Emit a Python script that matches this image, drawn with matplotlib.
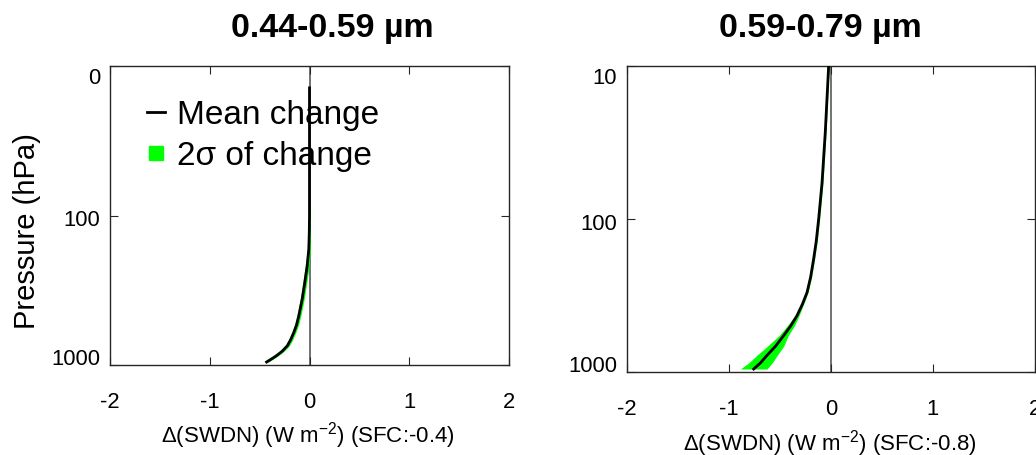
import numpy as np
import matplotlib
matplotlib.use("Agg")
import matplotlib.pyplot as plt
from matplotlib.lines import Line2D

plt.rcParams['font.family'] = ['Liberation Sans', 'DejaVu Sans']
plt.rcParams['mathtext.fontset'] = 'custom'
plt.rcParams['mathtext.rm'] = 'Liberation Sans'
plt.rcParams['mathtext.it'] = 'Liberation Sans'
plt.rcParams['axes.unicode_minus'] = False

# ---- data ----
# left panel: 0.44-0.59 um
p_left = [14, 50, 100, 129, 168, 217, 280, 362, 468, 540, 605, 680, 745, 810, 870, 910, 955]
mean_left = [0.0, 0.0, 0.0, -0.002, -0.007, -0.023, -0.047, -0.073, -0.107, -0.13,
             -0.157, -0.19, -0.223, -0.275, -0.335, -0.38, -0.43]
sig_left = [0.0, 0.0, 0.008, 0.012, 0.016, 0.02, 0.02, 0.02, 0.02, 0.02,
            0.02, 0.02, 0.02, 0.02, 0.02, 0.02, 0.02]

# right panel: 0.59-0.79 um
p_right = [10, 27, 58, 100, 140, 182, 240, 302, 360, 428, 500, 578, 680, 778, 870, 956]
mean_right = [-0.023, -0.056, -0.088, -0.121, -0.145, -0.17, -0.20, -0.235, -0.28,
              -0.333, -0.395, -0.464, -0.545, -0.627, -0.69, -0.758]
sig_right = [0.006, 0.008, 0.01, 0.01, 0.01, 0.01, 0.01, 0.01, 0.012, 0.02, 0.035,
             0.045, 0.08, 0.10, 0.115, 0.13]

titles = ['0.44-0.59 µm', '0.59-0.79 µm']
sfc = ['-0.4', '-0.8']
ytick_vals = [10, 100, 1000]
ytick_labels = [['0', '100', '1000'], ['10', '100', '1000']]
xtick_vals = [-2, -1, 0, 1, 2]
xtick_labels = ['-2', '-1', '0', '1', '2']

W, H = 1036, 456
fig = plt.figure(figsize=(W / 100, H / 100), dpi=100)

# axes boxes in pixels (left, top, right, bottom)
boxes = [(110, 67, 509, 366), (627, 67, 1035, 373)]
title_x = [332, 820]
xlabel_base = [443, 451]

green = '#00ff00'
spine_col = '#262626'

for i in range(2):
    l, t, r, b = boxes[i]
    ax = fig.add_axes([l / W, 1 - b / H, (r - l) / W, (b - t) / H])
    if i == 0:
        p, m, s = np.array(p_left), np.array(mean_left), np.array(sig_left)
    else:
        p, m, s = np.array(p_right), np.array(mean_right), np.array(sig_right)

    ax.axvline(0, color='#5a5a5a', lw=1.2, zorder=1)
    ax.fill_betweenx(p, m - s, m + s, color=green, lw=0, zorder=2)
    ax.plot(m, p, color='black', lw=2, zorder=3, solid_joinstyle='round')

    ax.set_yscale('log')
    ax.set_ylim(1000, 10)
    ax.set_xlim(-2, 2)
    ax.set_xticks(xtick_vals)
    ax.set_xticklabels(xtick_labels)
    ax.set_yticks(ytick_vals)
    ax.set_yticklabels([])
    ax.minorticks_off()
    ax.tick_params(direction='in', length=5.5, width=0.8, color=spine_col,
                   top=True, right=True, labelsize=15.8, pad=19)
    for sp in ax.spines.values():
        sp.set_color(spine_col)
        sp.set_linewidth(1.0)

    # y tick labels sit a little off their ticks in the original
    for v, lab, dy in zip(ytick_vals, ytick_labels[i], [-8, -3, 5]):
        ax.annotate(lab, xy=(0, v), xycoords=('axes fraction', 'data'),
                    xytext=(-7, dy), textcoords='offset points',
                    ha='right', va='center', fontsize=15.8)

    fig.text(title_x[i] / W, 1 - 36.5 / H, titles[i], ha='center', va='baseline',
             fontsize=24.5, fontweight='bold')
    fig.text((l + r) / 2 / W - 1.5 / W, 1 - xlabel_base[i] / H,
             'Δ(SWDN) (W m$^{\\mathrm{-2}}$) (SFC:' + sfc[i] + ')',
             ha='center', va='baseline', fontsize=16)

    if i == 0:
        handles = [Line2D([], [], color='black', lw=2),
                   Line2D([], [], ls='', marker='s', ms=10.5, color=green)]
        ax.legend(handles, ['Mean change', '2σ of change'], loc='upper left',
                  bbox_to_anchor=(0.093, 0.888), frameon=False, fontsize=24,
                  handlelength=0.55, handletextpad=0.36, labelspacing=0.3,
                  borderpad=0, borderaxespad=0)

fig.text(27 / W, 1 - 231 / H, 'Pressure (hPa)', rotation=90, ha='center',
         va='center', fontsize=21)

fig.savefig('out.png', dpi=100)
